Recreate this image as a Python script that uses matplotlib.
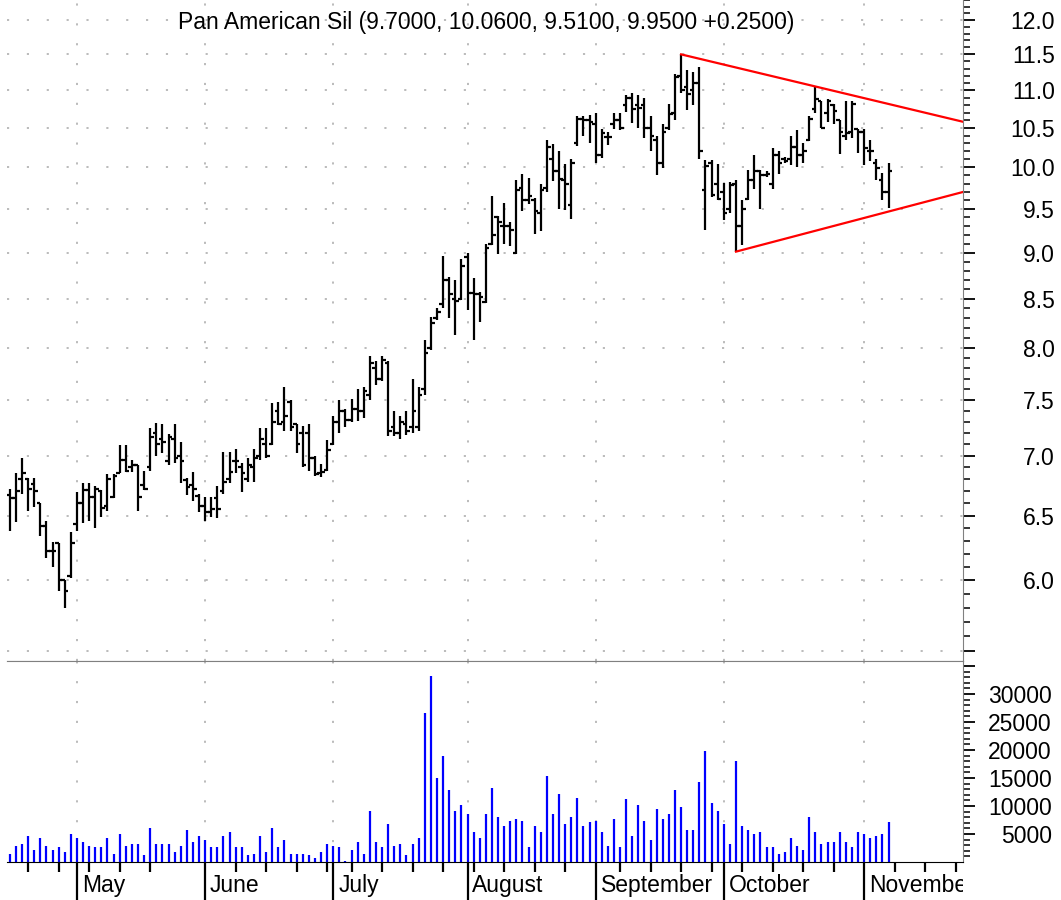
import numpy as np
import pandas as pd
import matplotlib
matplotlib.use('Agg')
import matplotlib.pyplot as plt
from matplotlib.ticker import FixedLocator, FixedFormatter, NullFormatter
import matplotlib.transforms as mtransforms

plt.rcParams['font.family'] = ['Liberation Sans', 'DejaVu Sans']

# trading calendar (2003), holidays removed
holidays = ['2003-04-18', '2003-05-26', '2003-07-04', '2003-09-01', '2003-11-27']
days = pd.bdate_range('2003-04-15', '2003-11-28')
days = days[~days.isin(pd.to_datetime(holidays))]

months = ['May', 'June', 'July', 'August', 'September', 'October', 'November']

# daily bars: open, high, low, close
opens = [6.67, 6.64, 6.80, 6.80, 6.76, 6.60, 6.42, 6.22, 6.28, 6.00, 6.03,
         6.43, 6.60, 6.71, 6.65, 6.70, 6.58, 6.65, 6.85, 6.96, 6.90, 6.92, 6.75, 6.90, 7.20, 7.15, 6.95, 7.15, 7.00, 6.79, 6.75, 6.66,
         6.58, 6.53, 6.64, 6.70, 6.80, 6.95, 6.90, 6.80, 6.90, 7.00, 7.10, 7.10, 7.40, 7.30, 7.48, 7.28, 7.20, 7.20, 6.98, 6.85, 6.88,
         7.10, 7.30, 7.40, 7.32, 7.42, 7.40, 7.55, 7.80, 7.70, 7.85, 7.25, 7.20, 7.28, 7.25, 7.25, 7.60, 8.00, 8.30, 8.45, 8.70, 8.50, 8.50,
         8.95, 8.56, 8.55, 8.47, 9.10, 9.40, 9.30, 9.30, 9.00, 9.75, 9.60, 9.60, 9.45, 9.75, 10.10, 9.95, 9.85, 9.55, 10.30, 10.62, 10.60,
         10.55, 10.15, 10.38, 10.55, 10.60, 10.80, 10.90, 10.80, 10.80, 10.50, 10.35, 10.05, 10.50, 10.70, 11.20, 11.05, 11.00, 11.10, 9.72, 10.05, 9.80,
         9.70, 9.50, 9.80, 9.30, 9.62, 9.85, 9.95, 9.90, 9.80, 10.15, 10.10, 10.10, 10.25, 10.15, 10.35, 10.75, 10.85, 10.70, 10.80, 10.60, 10.40, 10.45, 10.49,
         10.45, 10.20, 10.05, 9.85, 9.70]
highs = [6.72, 6.85, 6.98, 6.81, 6.81, 6.60, 6.46, 6.29, 6.28, 6.00, 6.37,
         6.69, 6.77, 6.77, 6.74, 6.71, 6.84, 6.84, 7.09, 7.09, 6.96, 6.92, 6.87, 7.24, 7.29, 7.28, 7.19, 7.28, 7.12, 6.81, 6.86, 6.68,
         6.65, 6.65, 6.74, 7.03, 7.03, 7.06, 6.94, 6.98, 7.06, 7.24, 7.24, 7.47, 7.48, 7.62, 7.50, 7.28, 7.26, 7.28, 7.00, 6.93, 7.14,
         7.35, 7.50, 7.42, 7.51, 7.60, 7.62, 7.92, 7.87, 7.92, 7.87, 7.40, 7.35, 7.40, 7.70, 7.62, 8.08, 8.31, 8.40, 8.96, 8.73, 8.70, 8.93,
         8.99, 8.72, 8.57, 9.10, 9.65, 9.42, 9.57, 9.35, 9.84, 9.92, 9.87, 9.63, 9.80, 10.34, 10.29, 10.21, 10.04, 10.11, 10.66, 10.66, 10.67,
         10.70, 10.48, 10.45, 10.70, 10.70, 10.94, 10.96, 10.94, 10.89, 10.66, 10.40, 10.55, 10.81, 11.22, 11.50, 11.28, 11.25, 11.32, 10.09, 10.09, 10.04,
         9.81, 9.82, 9.84, 9.60, 9.97, 10.16, 9.97, 9.96, 10.24, 10.21, 10.13, 10.40, 10.47, 10.30, 10.66, 11.05, 10.85, 10.88, 10.82, 10.60, 10.85, 10.85, 10.49,
         10.49, 10.35, 10.10, 9.93, 10.06]
lows = [6.38, 6.45, 6.68, 6.54, 6.57, 6.34, 6.17, 6.10, 5.92, 5.80, 6.02,
        6.38, 6.44, 6.46, 6.40, 6.49, 6.54, 6.64, 6.85, 6.86, 6.86, 6.54, 6.71, 6.87, 7.00, 7.02, 6.92, 6.94, 6.77, 6.67, 6.62, 6.53,
        6.46, 6.49, 6.48, 6.68, 6.77, 6.85, 6.69, 6.78, 6.78, 6.96, 6.98, 7.09, 7.27, 7.22, 7.22, 7.02, 6.90, 6.87, 6.83, 6.82, 6.87,
        7.09, 7.20, 7.25, 7.30, 7.31, 7.33, 7.50, 7.64, 7.68, 7.17, 7.17, 7.15, 7.18, 7.20, 7.22, 7.55, 7.98, 8.28, 8.40, 8.30, 8.13, 8.49,
        8.38, 8.08, 8.26, 8.46, 9.08, 8.98, 9.10, 9.07, 8.98, 9.48, 9.56, 9.21, 9.24, 9.70, 9.83, 9.50, 9.49, 9.38, 10.27, 10.39, 10.31,
        10.05, 10.12, 10.28, 10.48, 10.47, 10.71, 10.56, 10.50, 10.37, 10.20, 9.90, 9.99, 10.47, 10.60, 10.97, 10.73, 10.80, 10.11, 9.25, 9.64, 9.60,
        9.37, 9.45, 9.01, 9.08, 9.61, 9.74, 9.50, 9.88, 9.74, 9.92, 10.06, 10.03, 10.01, 10.05, 10.33, 10.70, 10.50, 10.58, 10.55, 10.17, 10.34, 10.37, 10.18,
        10.03, 10.08, 9.84, 9.61, 9.51]
closes = [6.64, 6.70, 6.85, 6.72, 6.70, 6.42, 6.22, 6.22, 6.00, 5.92, 6.28,
          6.60, 6.71, 6.65, 6.72, 6.56, 6.80, 6.83, 6.96, 6.87, 6.92, 6.65, 6.72, 7.16, 7.10, 7.12, 7.16, 6.98, 6.95, 6.73, 6.72, 6.58,
          6.53, 6.55, 6.55, 6.78, 6.86, 6.95, 6.85, 6.92, 6.98, 7.15, 7.00, 7.30, 7.28, 7.35, 7.25, 7.10, 6.92, 6.98, 6.84, 6.86, 7.05,
          7.30, 7.40, 7.32, 7.42, 7.40, 7.58, 7.85, 7.70, 7.88, 7.22, 7.20, 7.30, 7.22, 7.40, 7.55, 7.95, 8.25, 8.36, 8.70, 8.55, 8.48, 8.85,
          8.56, 8.55, 8.52, 9.05, 9.20, 9.35, 9.30, 9.25, 9.72, 9.61, 9.65, 9.48, 9.72, 10.25, 9.95, 9.86, 9.80, 10.05, 10.62, 10.60, 10.58,
          10.15, 10.44, 10.38, 10.60, 10.50, 10.90, 10.75, 10.76, 10.50, 10.40, 10.06, 10.45, 10.68, 11.18, 11.00, 10.95, 11.10, 10.20, 10.02, 9.66, 9.62,
          9.45, 9.78, 9.30, 9.50, 9.85, 9.95, 9.90, 9.92, 10.15, 10.05, 10.08, 10.25, 10.15, 10.20, 10.62, 10.88, 10.50, 10.85, 10.72, 10.45, 10.43, 10.82, 10.45,
          10.24, 10.20, 9.99, 9.70, 9.95]
volumes = [1500, 2900, 3300, 4600, 2200, 4300, 2900, 2200, 2600, 1800, 5000,
           4300, 3600, 2900, 2600, 2600, 4300, 1500, 5000, 2900, 3300, 3300, 1200, 6000, 3300, 3300, 3300, 1800, 2900, 5700, 3600, 4600,
           3900, 2600, 2600, 4600, 5300, 2600, 2600, 1200, 1500, 4600, 1800, 6000, 2600, 3900, 1500, 1500, 1500, 1200, 800, 1800, 3300,
           2900, 2600, 200, 2200, 3600, 1500, 9100, 3600, 2600, 6700, 2900, 3300, 1200, 3300, 4300, 26700, 33200, 15000, 19000, 12900, 9100, 10100,
           8500, 5300, 4300, 8500, 13300, 8100, 6400, 7400, 7700, 7400, 2600, 6400, 5300, 15300, 8500, 12200, 6700, 8100, 11500, 6400, 7100,
           7400, 5300, 2900, 7700, 2600, 11200, 4600, 10100, 7400, 3900, 9500, 7700, 8500, 12900, 9800, 5700, 5700, 14300, 19800, 10500, 9100,
           6700, 3300, 18000, 6400, 5700, 5000, 5300, 2600, 2600, 1500, 1800, 4300, 2900, 2200, 8100, 5300, 3300, 3600, 3600, 5300, 3600, 2600, 5300,
           5000, 4300, 4600, 5000, 7100]

# triangle trend lines: (bar index, price)
upper_line = [(110, 11.50), (156.2, 10.58)]
lower_line = [(119, 9.01), (156.2, 9.70)]

price_ticks = [5.5, 6.0, 6.5, 7.0, 7.5, 8.0, 8.5, 9.0, 9.5, 10.0, 10.5, 11.0, 11.5, 12.0]
vol_ticks = [5000, 10000, 15000, 20000, 25000, 30000, 35000]

n = len(closes)
x = np.arange(n)
o, h, l, c = map(np.array, (opens, highs, lows, closes))

# positions of month starts and mondays on the trading-day axis
pos = np.arange(len(days))
month_start = [i for i in range(1, len(days)) if days[i].month != days[i - 1].month]
mondays = [i for i in pos if days[i].weekday() == 0]

W, H = 1061, 900
FS = 16.5
fig = plt.figure(figsize=(W / 100, H / 100), dpi=100)
ax = fig.add_axes([7 / W, 1 - 661 / H, 956 / W, 661 / H])
axv = fig.add_axes([7 / W, 1 - 862 / H, 956 / W, 201 / H], sharex=ax)

grid_kw = dict(color='#a8a8a8', linewidth=1.1, linestyle=(0, (1.4, 11.6)))
tick_len = 8.5

# ---- price panel ----
ax.vlines(x, l, h, color='black', linewidth=1.6)
ax.hlines(o, x - 0.6, x, color='black', linewidth=1.6)
ax.hlines(c, x, x + 0.6, color='black', linewidth=1.6)
for line in (upper_line, lower_line):
    ax.plot([p[0] for p in line], [p[1] for p in line], color='red', linewidth=1.6)

ax.set_yscale('log')
ax.set_ylim(5.43, 12.30)
ax.set_xlim(-0.47, 156.2)
ax.yaxis.tick_right()
ax.yaxis.set_major_locator(FixedLocator(price_ticks))
ax.yaxis.set_major_formatter(FixedFormatter(['' if t < 6 else f'{t:.1f}' for t in price_ticks]))
ax.yaxis.set_minor_locator(FixedLocator(np.round(np.arange(5.5, 12.31, 0.1), 1)))
ax.yaxis.set_minor_formatter(NullFormatter())
ax.tick_params(axis='y', which='major', direction='out', length=tick_len, width=1.3,
               labelsize=FS, pad=66 - tick_len)
ax.tick_params(axis='y', which='minor', direction='out', length=5, width=1.1)
for lbl in ax.get_yticklabels():
    lbl.set_horizontalalignment('right')

ax.set_xticks(month_start)
ax.set_xticks(mondays, minor=True)
ax.tick_params(axis='x', which='both', length=0, labelbottom=False)
ax.grid(True, which='major', **grid_kw)

for side in ('left', 'top'):
    ax.spines[side].set_visible(False)
ax.spines['right'].set_color('#808080')
ax.spines['bottom'].set_color('#808080')

last = n - 1
fig.text(486 / W, 1 - 22 / H,
         f'Pan American Sil ({o[last]:.4f}, {h[last]:.4f}, {l[last]:.4f}, {c[last]:.4f} '
         f'+{c[last] - c[last - 1]:.4f})', ha='center', va='center', fontsize=FS)

# ---- volume panel ----
axv.vlines(x, 0, volumes, color='blue', linewidth=1.6)
axv.set_ylim(0, 35900)
axv.yaxis.tick_right()
axv.yaxis.set_major_locator(FixedLocator(vol_ticks))
axv.yaxis.set_major_formatter(FixedFormatter([str(v) if v < 35000 else '' for v in vol_ticks]))
axv.yaxis.set_minor_locator(FixedLocator(np.arange(1000, 36000, 1000)))
axv.tick_params(axis='y', which='major', direction='out', length=tick_len, width=1.3,
                labelsize=FS, pad=64 - tick_len)
axv.tick_params(axis='y', which='minor', direction='out', length=5, width=1.1)
for lbl in axv.get_yticklabels():
    lbl.set_horizontalalignment('right')

axv.tick_params(axis='x', which='major', direction='out', length=30, width=1.6, labelbottom=False)
axv.tick_params(axis='x', which='minor', direction='out', length=7, width=1.6)
axv.grid(True, axis='x', which='major', **grid_kw)

axv.spines['left'].set_visible(False)
axv.spines['top'].set_color('#808080')
axv.spines['right'].set_color('#808080')
axv.spines['bottom'].set_color('black')

# month names sit right of their tick and are cut off at the right spine
trans = mtransforms.blended_transform_factory(axv.transData, axv.transAxes)
clip = mtransforms.TransformedBbox(mtransforms.Bbox([[-0.1, -1.0], [1.0, 1.0]]), axv.transAxes)
for i, name in zip(month_start, months):
    t = axv.text(i + 0.8, -0.115, name, transform=trans, ha='left', va='center',
                 fontsize=FS)
    t.set_clip_box(clip)
    t.set_clip_on(True)

fig.savefig('out.png', dpi=100)
